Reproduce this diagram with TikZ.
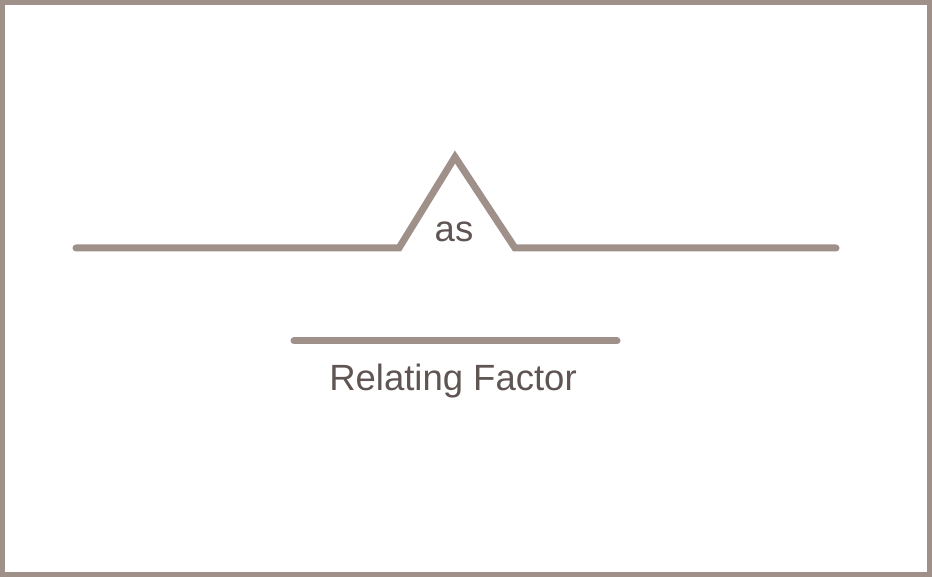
\documentclass[tikz,border=0pt]{standalone}
\usepackage{fontspec}
\setmainfont{Liberation Sans}
\definecolor{linec}{HTML}{A0908A}
\definecolor{textc}{HTML}{5F5552}
\tikzset{
  diag/.style={draw=linec, line width=7pt, line cap=round, line join=miter},
  lbl/.style={text=textc, font=\fontsize{36.5}{42}\selectfont, inner sep=0pt, anchor=base}
}
\begin{document}
\begin{tikzpicture}[x=1pt,y=-1pt]
\useasboundingbox (0,0) rectangle (932,577);
\draw[draw=linec, line width=5pt] (2.5,2.5) rectangle (929.5,574.5);
\coordinate (L) at (76,248);
\coordinate (A) at (399,248);
\coordinate (T) at (455,157);
\coordinate (B) at (515,248);
\coordinate (R) at (836,248);
\coordinate (F1) at (294,341);
\coordinate (F2) at (617,341);
\draw[diag] (L) -- (A) -- (T) -- (B) -- (R);
\draw[diag] (F1) -- (F2);
\node[lbl] (as) at (454,242) {as};
\node[lbl] (rf) at (453,390) {Relating Factor};
\end{tikzpicture}
\end{document}
